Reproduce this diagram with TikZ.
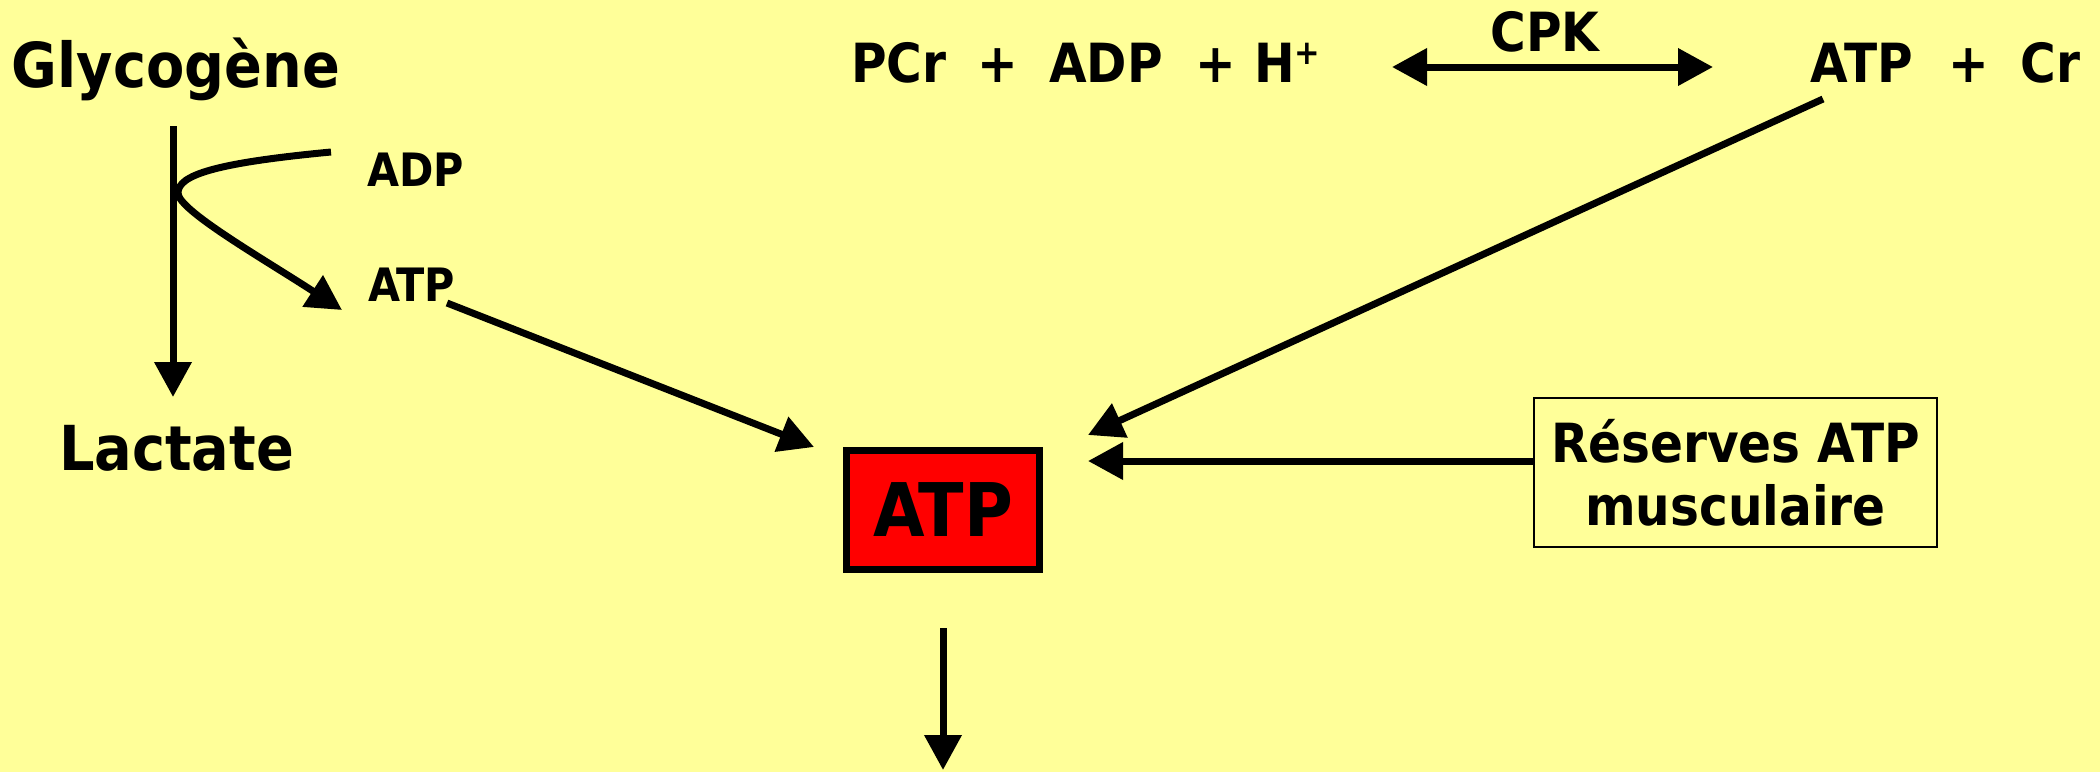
\documentclass[tikz,border=0pt]{standalone}
\usepackage{fontspec}
\usetikzlibrary{arrows.meta}
\newfontfamily\dfont{DejaVu Sans Condensed}
\definecolor{bg}{HTML}{FFFF99}
\definecolor{atpred}{HTML}{FF0000}
\tikzset{
  lbl/.style={inner sep=0pt, outer sep=0pt, font=\dfont\bfseries\fontsize{#1}{#1}\selectfont},
  conn/.style={line width=7pt, -{Triangle[length=35pt,width=36pt]}},
  dconn/.style={line width=7pt, {Triangle[length=35pt,width=36pt]}-{Triangle[length=35pt,width=36pt]}},
}
\begin{document}
\begin{tikzpicture}[x=1pt,y=-1pt]
\useasboundingbox (0,0) rectangle (2100,772);
\fill[bg] (0,0) rectangle (2100,772);

% left glycolysis part
\node[lbl=62, anchor=base west] (glyc) at (12,87) {Glycogène};
\node[lbl=62, anchor=base west] (lact) at (59,470) {Lactate};
\node[lbl=46, anchor=base west] (adp) at (367,186) {ADP};
\node[lbl=46, anchor=base west] (atps) at (368,301) {ATP};

% top reaction
\node[lbl=54, anchor=base] (pcr) at (899,82) {PCr};
\node[lbl=54, anchor=base] (plus1) at (997.5,82) {+};
\node[lbl=54, anchor=base] (adpt) at (1106,82) {ADP};
\node[lbl=54, anchor=base] (plus2) at (1215.5,82) {+};
\node[lbl=54, anchor=base west] (hp) at (1254,82) {H\raisebox{0.33em}{\fontsize{34}{34}\selectfont +}};
\node[lbl=54, anchor=base] (cpk) at (1545,51) {CPK};
\node[lbl=54, anchor=base] (atpt) at (1862,82) {ATP};
\node[lbl=54, anchor=base] (plus3) at (1968.5,82) {+};
\node[lbl=54, anchor=base] (cr) at (2050.5,82) {Cr};

% central ATP box
\node[draw=black, fill=atpred, line width=7pt, minimum width=193pt, minimum height=119pt,
      inner sep=0pt, font=\dfont\bfseries\fontsize{74}{74}\selectfont] (atp) at (943,510) {ATP};

% reserves box
\node[draw=black, line width=1.5pt, minimum width=403pt, minimum height=149pt, inner sep=0pt,
      align=center, font=\dfont\bfseries\fontsize{54}{63}\selectfont] (res) at (1735.5,472.5)
      {Réserves ATP\\musculaire};

% connector end points
\coordinate (g1) at (173,126);
\coordinate (g2) at (173,397);
\coordinate (c1) at (331,152);
\coordinate (c2) at (342,310);
\coordinate (s1) at (447,303);
\coordinate (s2) at (814,447);
\coordinate (k1) at (1392,67);
\coordinate (k2) at (1713,67);
\coordinate (r1) at (1823,99);
\coordinate (r2) at (1088,435);
\coordinate (h2) at (1088,461);
\coordinate (b1) at (943,628);
\coordinate (b2) at (943,770);

\draw[conn] (g1) -- (g2);
\draw[conn] (c1) .. controls (215,163) and (178,175) .. (178,193)
                 .. controls (178,210) and (262,258) .. (c2);
\draw[conn] (s1) -- (s2);
\draw[dconn] (k1) -- (k2);
\draw[conn] (r1) -- (r2);
\draw[conn] (res.west |- h2) -- (h2);
\draw[conn] (b1) -- (b2);
\end{tikzpicture}
\end{document}
